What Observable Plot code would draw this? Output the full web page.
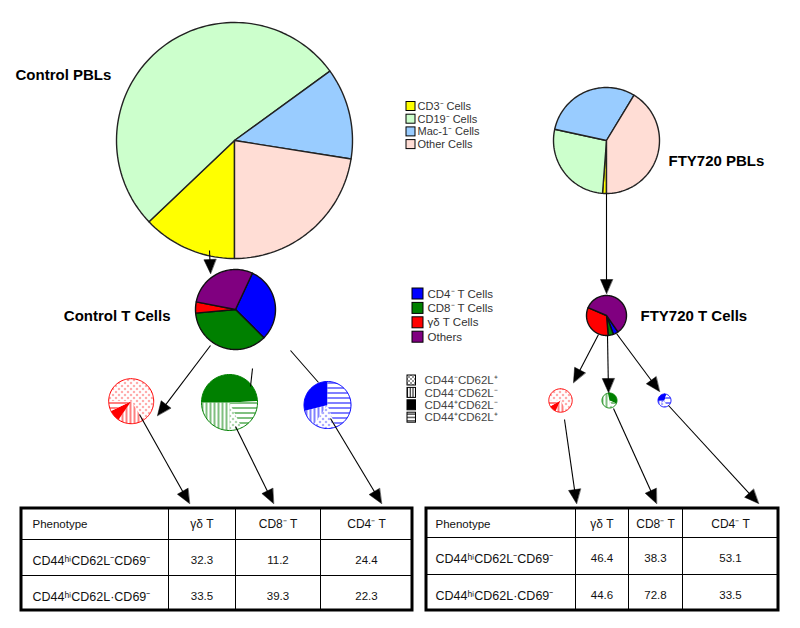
<!DOCTYPE html>
<html><head><meta charset="utf-8">
<script src="https://cdn.jsdelivr.net/npm/d3@7"></script>
<script src="https://cdn.jsdelivr.net/npm/@observablehq/plot@0.6"></script>
<style>html,body{margin:0;padding:0;background:#fff}svg{display:block}</style>
</head><body><div id="chart"></div>
<script>
// ---------------- DATA ----------------
const pblCategories = ["CD3\u207B Cells", "CD19\u207B Cells", "Mac-1\u207B Cells", "Other Cells"];
const controlPBL = [12.9, 52.1, 12.5, 22.5];
const fty720PBL = [1.2, 27.2, 30.3, 41.3];

const tCategories = ["CD4\u207B T Cells", "CD8\u207B T Cells", "\u03B3\u03B4 T Cells", "Others"];
const controlT = [30.5, 36.1, 4.5, 28.9];
const fty720T = [4.2, 4.2, 32.8, 58.8];

const subsetCategories = ["CD44\u207BCD62L\u207A", "CD44\u207BCD62L\u207B", "CD44\u207ACD62L\u207B", "CD44\u207ACD62L\u207A"];
const controlGdSubsets = [65.8, 18.8, 8.2, 7.2];
const controlCD8Subsets = [7.2, 25.0, 49.2, 18.6];
const controlCD4Subsets = [15.3, 11.4, 28.9, 44.4];
const ftyGdSubsets = [66.7, 15.3, 9.7, 8.3];
const ftyCD8Subsets = [10, 45, 35, 10];
const ftyCD4Subsets = [20, 10, 30, 40];

const tableColumns = ["Phenotype", "\u03B3\u03B4 T", "CD8\u207B T", "CD4\u207B T"];
const tableRows = ["CD44\u02B0\u2071CD62L\u207BCD69\u207B", "CD44\u02B0\u2071CD62L\u00B7CD69\u207B"];
const controlTable = [[32.3, 11.2, 24.4], [33.5, 39.3, 22.3]];
const ftyTable = [[46.4, 38.3, 53.1], [44.6, 72.8, 33.5]];

// ---------------- STYLE / LAYOUT ----------------
const pblColors = ["#ffff00", "#ccffcc", "#99ccff", "#ffddd5"];
const tColors = ["#0000ff", "#008000", "#ff0000", "#800080"];
const subsetFill = (name, color) => [`url(#dots-${name})`, `url(#vl-${name})`, color, `url(#hl-${name})`];
const legendSubsetFill = ["url(#dots-k)", "url(#vl-k)", "#000", "url(#hl-k)"];

function wedges(values, cx, cy, r, start, fills, stroke) {
  const total = d3.sum(values);
  let a = start;
  return values.map((v, i) => {
    const a0 = a, a1 = a + v / total * 360;
    a = a1;
    const ring = [[cx, cy]];
    const n = Math.max(2, Math.ceil((a1 - a0) / 2));
    for (let k = 0; k <= n; k++) {
      const t = (a0 + (a1 - a0) * k / n) * Math.PI / 180;
      ring.push([cx + r * Math.sin(t), cy - r * Math.cos(t)]);
    }
    ring.push([cx, cy]);
    return {geometry: {type: "Polygon", coordinates: [ring]}, fill: fills[i], stroke};
  });
}
function circle(cx, cy, r, stroke) {
  const ring = d3.range(0, 121).map(k => {
    const t = k / 120 * 2 * Math.PI;
    return [cx + r * Math.sin(t), cy - r * Math.cos(t)];
  });
  return {geometry: {type: "Polygon", coordinates: [ring]}, fill: "none", stroke};
}

const bigPies = [
  ...wedges(controlPBL, 234, 140, 118, 180, pblColors, "#222"),
  ...wedges(fty720PBL, 606, 140, 53, 180, pblColors, "#222"),
  ...wedges(controlT, 235, 309, 40, 25, tColors, "#111"),
  ...wedges(fty720T, 606, 315, 20, 145, tColors, "#111")
];
const smallPies = [
  ...wedges(controlGdSubsets, 130.7, 400.7, 22.5, 270, subsetFill("r", "#ff0000"), "none"),
  ...wedges(controlCD8Subsets, 229, 402, 28, 154, subsetFill("g", "#008000"), "none"),
  ...wedges(controlCD4Subsets, 327, 404.5, 23.5, 160, subsetFill("b", "#0000ff"), "none"),
  ...wedges(ftyGdSubsets, 560, 400, 11.7, 270, subsetFill("r", "#ff0000"), "none"),
  ...wedges(ftyCD8Subsets, 609, 400, 7.5, 150, subsetFill("g", "#008000"), "none"),
  ...wedges(ftyCD4Subsets, 664, 400, 6.5, 160, subsetFill("b", "#0000ff"), "none")
];
const smallOutlines = [
  circle(130.7, 400.7, 22.5, "#ff0000"), circle(229, 402, 28, "#008000"), circle(327, 404.5, 23.5, "#0000ff"),
  circle(560, 400, 11.7, "#ff0000"), circle(609, 400, 7.5, "#008000"), circle(664, 400, 6.5, "#0000ff")
];

const arrowsUnder = [
  {x1: 210, y1: 345, x2: 157, y2: 415, head: true},
  {x1: 290, y1: 350, x2: 318, y2: 382, head: false}
];
const arrowsOver = [
  {x1: 209, y1: 250, x2: 210, y2: 273, head: true},
  {x1: 606, y1: 193, x2: 606, y2: 293, head: true},
  {x1: 252, y1: 368, x2: 250, y2: 386, head: false},
  {x1: 598, y1: 334, x2: 573, y2: 382, head: true},
  {x1: 607, y1: 335, x2: 608, y2: 392, head: true},
  {x1: 616, y1: 333, x2: 659, y2: 391, head: true},
  {x1: 139, y1: 414, x2: 189, y2: 503, head: true},
  {x1: 235, y1: 426, x2: 273, y2: 503, head: true},
  {x1: 330, y1: 418, x2: 381, y2: 503, head: true},
  {x1: 564, y1: 419, x2: 576, y2: 503, head: true},
  {x1: 613, y1: 408, x2: 656, y2: 503, head: true},
  {x1: 668, y1: 405, x2: 758, y2: 503, head: true}
];
const HL = 14, HW = 6;
function shaft(a) {
  if (!a.head) return a;
  const dx = a.x2 - a.x1, dy = a.y2 - a.y1, len = Math.hypot(dx, dy);
  return {x1: a.x1, y1: a.y1, x2: a.x2 - dx / len * HL * 0.6, y2: a.y2 - dy / len * HL * 0.6};
}
function head(a) {
  const dx = a.x2 - a.x1, dy = a.y2 - a.y1, len = Math.hypot(dx, dy);
  const ux = dx / len, uy = dy / len, bx = a.x2 - ux * HL, by = a.y2 - uy * HL;
  const ring = [[a.x2, a.y2], [bx - uy * HW, by + ux * HW], [bx + uy * HW, by - ux * HW], [a.x2, a.y2]];
  return {geometry: {type: "Polygon", coordinates: [ring]}, fill: "#000", stroke: "#000"};
}

const titlesStart = [
  {text: "Control PBLs", x: 15, y: 75},
  {text: "FTY720 PBLs", x: 668, y: 161},
  {text: "FTY720 T Cells", x: 640, y: 316}
];
const titlesEnd = [
  {text: "Control T Cells", x: 170, y: 316}
];

const legend1 = pblCategories.map((c, i) => ({c, fill: pblColors[i], y: 106 + i * 12.7}));
const legend2 = tCategories.map((c, i) => ({c, fill: tColors[i], y: 293.5 + i * 14.4}));
const legend3 = subsetCategories.map((c, i) => ({c, fill: legendSubsetFill[i], y: 380 + i * 12.4}));

function tableLayout(xs, ys, values, phenX) {
  const head = [], rows = [], mid = [], nums = [];
  head.push({text: tableColumns[0], x: phenX, y: ys[0] + 16});
  tableColumns.slice(1).forEach((c, j) => mid.push({text: c, x: (xs[j + 1] + xs[j + 2]) / 2, y: ys[0] + 16}));
  tableRows.forEach((r, i) => {
    rows.push({text: r, x: phenX, y: ys[i + 1] + 21});
    values[i].forEach((v, j) => nums.push({text: v.toFixed(1), x: (xs[j + 1] + xs[j + 2]) / 2, y: ys[i + 1] + 21}));
  });
  const lines = [];
  xs.slice(1, -1).forEach(x => lines.push({x1: x, x2: x, y1: ys[0], y2: ys[ys.length - 1]}));
  ys.slice(1, -1).forEach(y => lines.push({x1: xs[0], x2: xs[xs.length - 1], y1: y, y2: y}));
  return {head, rows, mid, nums, lines, box: {x1: xs[0], x2: xs[xs.length - 1], y1: ys[0], y2: ys[ys.length - 1]}};
}
const tabC = tableLayout([21, 168, 235, 320, 412], [508, 539, 575, 610], controlTable, 32);
const tabF = tableLayout([426, 575, 628, 682, 778], [508, 537, 574, 610], ftyTable, 435);

const font = "'Liberation Sans', Arial, Helvetica, sans-serif";

const chart = Plot.plot({
  width: 800, height: 628, margin: 0,
  x: {domain: [0, 800], axis: null},
  y: {domain: [0, 628], range: [0, 628], axis: null},
  color: {type: "identity"},
  style: {fontFamily: font, background: "#fff", overflow: "visible"},
  marks: [
    Plot.link(arrowsUnder.map(shaft), {x1: "x1", y1: "y1", x2: "x2", y2: "y2", stroke: "#000", strokeWidth: 1.1}),
    Plot.geo(arrowsUnder.filter(a => a.head).map(head), {geometry: "geometry", fill: "fill", stroke: "stroke", strokeWidth: 0.5}),
    Plot.geo(bigPies, {geometry: "geometry", fill: "fill", stroke: "stroke", strokeWidth: 1.4, strokeLinejoin: "round"}),
    Plot.geo(smallPies, {geometry: "geometry", fill: "fill", stroke: "none"}),
    Plot.geo(smallOutlines, {geometry: "geometry", fill: "none", stroke: "stroke", strokeWidth: 1}),
    Plot.link(arrowsOver.map(shaft), {x1: "x1", y1: "y1", x2: "x2", y2: "y2", stroke: "#000", strokeWidth: 1.1}),
    Plot.geo(arrowsOver.filter(a => a.head).map(head), {geometry: "geometry", fill: "fill", stroke: "stroke", strokeWidth: 0.5}),
    // titles
    Plot.text(titlesStart, {x: "x", y: "y", text: "text", textAnchor: "start", fontSize: 15, fontWeight: "bold", fill: "#000"}),
    Plot.text(titlesEnd, {x: "x", y: "y", text: "text", textAnchor: "end", fontSize: 15, fontWeight: "bold", fill: "#000"}),
    // legend 1
    Plot.rect(legend1, {x1: 406, x2: 415, y1: d => d.y - 4.5, y2: d => d.y + 4.5, fill: "fill", stroke: "#000", strokeWidth: 1}),
    Plot.text(legend1, {x: 417, y: "y", text: "c", textAnchor: "start", fontSize: 11, fill: "#333"}),
    // legend 2
    Plot.rect(legend2, {x1: 412, x2: 423, y1: d => d.y - 5.5, y2: d => d.y + 5.5, fill: "fill", stroke: "#000", strokeWidth: 1}),
    Plot.text(legend2, {x: 427, y: "y", text: "c", textAnchor: "start", fontSize: 11.5, fill: "#333"}),
    // legend 3
    Plot.rect(legend3, {x1: 407, x2: 415.5, y1: d => d.y - 5, y2: d => d.y + 5, fill: "fill", stroke: "#000", strokeWidth: 1}),
    Plot.text(legend3, {x: 424, y: "y", text: "c", textAnchor: "start", fontSize: 11.5, fill: "#444"}),
    // tables
    Plot.link([...tabC.lines, ...tabF.lines], {x1: "x1", y1: "y1", x2: "x2", y2: "y2", stroke: "#000", strokeWidth: 1}),
    Plot.rect([tabC.box, tabF.box], {x1: "x1", x2: "x2", y1: "y1", y2: "y2", fill: "none", stroke: "#000", strokeWidth: 3}),
    Plot.text([...tabC.head, ...tabF.head], {x: "x", y: "y", text: "text", textAnchor: "start", fontSize: 11.5, fill: "#111"}),
    Plot.text([...tabC.rows, ...tabF.rows], {x: "x", y: "y", text: "text", textAnchor: "start", fontSize: 12.5, fill: "#111"}),
    Plot.text([...tabC.mid, ...tabF.mid], {x: "x", y: "y", text: "text", textAnchor: "middle", fontSize: 12, fill: "#111"}),
    Plot.text([...tabC.nums, ...tabF.nums], {x: "x", y: "y", text: "text", textAnchor: "middle", fontSize: 11.5, fill: "#111"})
  ]
});

// pattern definitions for hatched slices
function patterns(name, color, s) {
  const d = s.dot, v = s.v, h = s.h;
  return `<pattern id="dots-${name}" patternUnits="userSpaceOnUse" width="${d}" height="${d}"><rect width="${d}" height="${d}" fill="#fff"/><circle cx="${d/4}" cy="${d/4}" r="0.75" fill="${color}"/><circle cx="${3*d/4}" cy="${3*d/4}" r="0.75" fill="${color}"/></pattern>
  <pattern id="vl-${name}" patternUnits="userSpaceOnUse" width="${v}" height="${v}"><rect width="${v}" height="${v}" fill="#fff"/><rect x="${v/2 - 0.5}" width="1" height="${v}" fill="${color}"/></pattern>
  <pattern id="hl-${name}" patternUnits="userSpaceOnUse" width="${h}" height="${h}"><rect width="${h}" height="${h}" fill="#fff"/><rect y="${h/2 - 0.5}" width="${h}" height="1" fill="${color}"/></pattern>`;
}
const big = {dot: 6, v: 4, h: 5};
d3.select(chart).insert("defs", ":first-child").html(
  patterns("r", "#ff0000", big) + patterns("g", "#008000", big) + patterns("b", "#0000ff", big) +
  patterns("k", "#000", {dot: 4, v: 2.8, h: 3.3})
);
document.getElementById("chart").appendChild(chart);
</script>
</body></html>
